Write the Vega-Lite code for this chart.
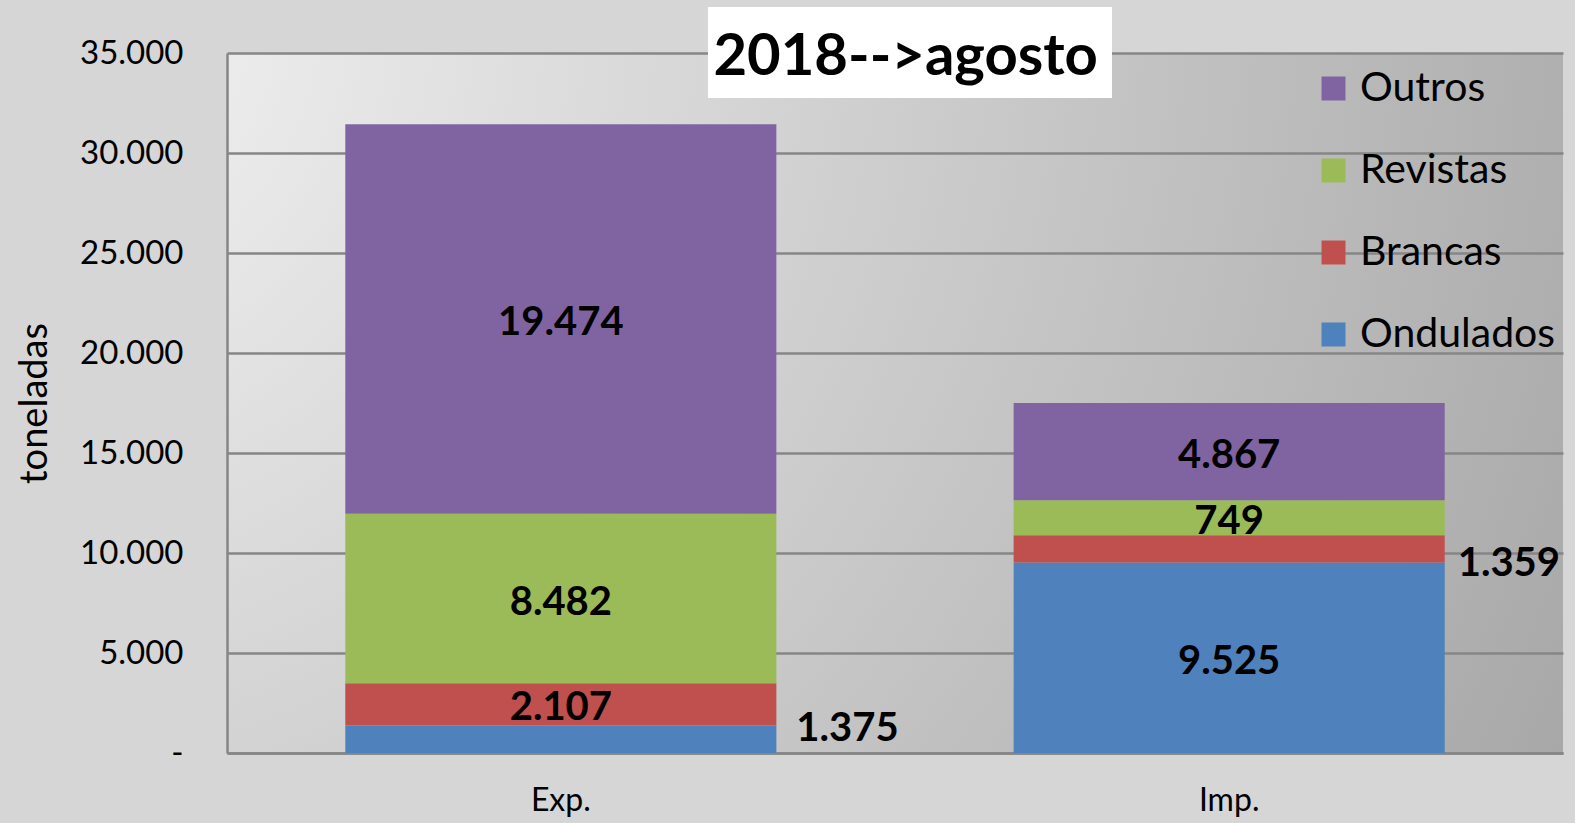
{
  "$schema": "https://vega.github.io/schema/vega-lite/v6.json",
  "width": 1336,
  "height": 700,
  "autosize": "none",
  "padding": {"left": 227, "top": 53, "right": 12, "bottom": 70},
  "background": "#d6d6d6",
  "config": {
    "font": "Lato",
    "view": {
      "stroke": null,
      "fill": {
        "gradient": "radial",
        "x1": -0.17, "y1": 0.198, "r1": 0,
        "x2": -0.17, "y2": 0.198, "r2": 1.38,
        "stops": [
          {"offset": 0, "color": "#f6f6f6"},
          {"offset": 1, "color": "#a3a3a3"}
        ]
      }
    }
  },
  "datasets": {
    "papel": [
      {"fluxo": "Exp.", "tipo": "Ondulados", "ordem": 1, "toneladas": 1375, "rotulo": "1.375"},
      {"fluxo": "Exp.", "tipo": "Brancas", "ordem": 2, "toneladas": 2107, "rotulo": "2.107"},
      {"fluxo": "Exp.", "tipo": "Revistas", "ordem": 3, "toneladas": 8482, "rotulo": "8.482"},
      {"fluxo": "Exp.", "tipo": "Outros", "ordem": 4, "toneladas": 19474, "rotulo": "19.474"},
      {"fluxo": "Imp.", "tipo": "Ondulados", "ordem": 1, "toneladas": 9525, "rotulo": "9.525"},
      {"fluxo": "Imp.", "tipo": "Brancas", "ordem": 2, "toneladas": 1359, "rotulo": "1.359"},
      {"fluxo": "Imp.", "tipo": "Revistas", "ordem": 3, "toneladas": 1749, "rotulo": "749"},
      {"fluxo": "Imp.", "tipo": "Outros", "ordem": 4, "toneladas": 4867, "rotulo": "4.867"}
    ],
    "titulo": [{"t": "2018-->agosto"}]
  },
  "resolve": {"scale": {"x": "independent"}, "axis": {"x": "independent"}},
  "layer": [
    {
      "data": {"name": "papel"},
      "layer": [
        {
          "mark": {"type": "bar", "strokeWidth": 0},
          "encoding": {
            "x": {
              "field": "fluxo", "type": "nominal", "sort": ["Exp.", "Imp."],
              "scale": {"paddingInner": 0.355, "paddingOuter": 0.177},
              "axis": {
                "title": null, "labelAngle": 0, "ticks": false, "tickSize": 0,
                "labelFontSize": 32, "labelColor": "#000000", "labelPadding": 32,
                "domainColor": "#868686", "domainWidth": 2.5, "grid": false
              }
            },
            "y": {
              "field": "toneladas", "type": "quantitative", "stack": "zero",
              "scale": {"domain": [0, 35000], "nice": false, "zero": true},
              "axis": {
                "title": "toneladas", "titleFontSize": 38, "titleFontWeight": "normal",
                "titleColor": "#000000", "titlePadding": 25,
                "values": [0, 5000, 10000, 15000, 20000, 25000, 30000, 35000],
                "labelExpr": "datum.value === 0 ? '-' : replace(format(datum.value, ','), ',', '.')",
                "labelFontSize": 33, "labelColor": "#000000", "labelPadding": 44,
                "ticks": false, "tickSize": 0,
                "domainColor": "#868686", "domainWidth": 2.5,
                "grid": true, "gridColor": "#868686", "gridWidth": 2.5,
                "encode": {"labels": {"update": {"dx": {"signal": "datum.value === 0 ? -18 : 0"}}}}
              }
            },
            "color": {
              "field": "tipo", "type": "nominal",
              "scale": {
                "domain": ["Ondulados", "Brancas", "Revistas", "Outros"],
                "range": ["#4f81bd", "#c0504d", "#9bbb59", "#8064a2"]
              },
              "legend": {
                "title": null, "orient": "none", "legendX": 1086, "legendY": 15,
                "values": ["Outros", "Revistas", "Brancas", "Ondulados"],
                "symbolType": "square", "symbolSize": 576, "symbolStrokeWidth": 0,
                "labelFontSize": 41, "labelColor": "#000000", "labelOffset": 6,
                "rowPadding": 40, "padding": 0, "labelLimit": 400
              }
            },
            "order": {"field": "ordem", "type": "quantitative"}
          }
        },
        {
          "mark": {"type": "text", "font": "Lato", "fontWeight": "bold", "fontSize": 40, "color": "#000000", "baseline": "middle", "align": "center", "dy": 4},
          "encoding": {
            "x": {"field": "fluxo", "type": "nominal", "sort": ["Exp.", "Imp."]},
            "y": {"field": "toneladas", "type": "quantitative", "stack": "zero", "bandPosition": 0.5},
            "detail": {"field": "tipo"},
            "order": {"field": "ordem", "type": "quantitative"},
            "text": {
              "condition": {"test": "(datum.fluxo === 'Exp.' && datum.tipo === 'Ondulados') || (datum.fluxo === 'Imp.' && datum.tipo === 'Brancas')", "value": ""},
              "field": "rotulo", "type": "nominal"
            }
          }
        },
        {
          "mark": {"type": "text", "font": "Lato", "fontWeight": "bold", "fontSize": 40, "color": "#000000", "baseline": "middle", "align": "left", "dx": 20, "dy": 3},
          "encoding": {
            "x": {"field": "fluxo", "type": "nominal", "sort": ["Exp.", "Imp."], "bandPosition": 1},
            "y": {"field": "toneladas", "type": "quantitative", "stack": "zero", "bandPosition": 1},
            "detail": {"field": "tipo"},
            "order": {"field": "ordem", "type": "quantitative"},
            "text": {
              "condition": {"test": "datum.fluxo === 'Exp.' && datum.tipo === 'Ondulados'", "field": "rotulo", "type": "nominal"},
              "value": ""
            }
          }
        },
        {
          "mark": {"type": "text", "font": "Lato", "fontWeight": "bold", "fontSize": 40, "color": "#000000", "baseline": "middle", "align": "left", "dx": 13, "dy": 1},
          "encoding": {
            "x": {"field": "fluxo", "type": "nominal", "sort": ["Exp.", "Imp."], "bandPosition": 1},
            "y": {"field": "toneladas", "type": "quantitative", "stack": "zero", "bandPosition": 0},
            "detail": {"field": "tipo"},
            "order": {"field": "ordem", "type": "quantitative"},
            "text": {
              "condition": {"test": "datum.fluxo === 'Imp.' && datum.tipo === 'Brancas'", "field": "rotulo", "type": "nominal"},
              "value": ""
            }
          }
        }
      ]
    },
    {
      "data": {"name": "titulo"},
      "layer": [
        {
          "mark": {"type": "rect", "color": "#ffffff", "strokeWidth": 0},
          "encoding": {
            "x": {"datum": 0.36, "type": "quantitative", "scale": {"domain": [0, 1], "nice": false, "zero": false}, "axis": null},
            "x2": {"datum": 0.6624},
            "y": {"datum": 37300, "type": "quantitative"},
            "y2": {"datum": 32750}
          }
        },
        {
          "mark": {"type": "text", "font": "Lato", "fontWeight": "bold", "fontSize": 58, "color": "#000000", "baseline": "alphabetic", "align": "center"},
          "encoding": {
            "x": {"datum": 0.508, "type": "quantitative", "axis": null},
            "y": {"datum": 33900, "type": "quantitative"},
            "text": {"field": "t", "type": "nominal"}
          }
        }
      ]
    }
  ]
}
